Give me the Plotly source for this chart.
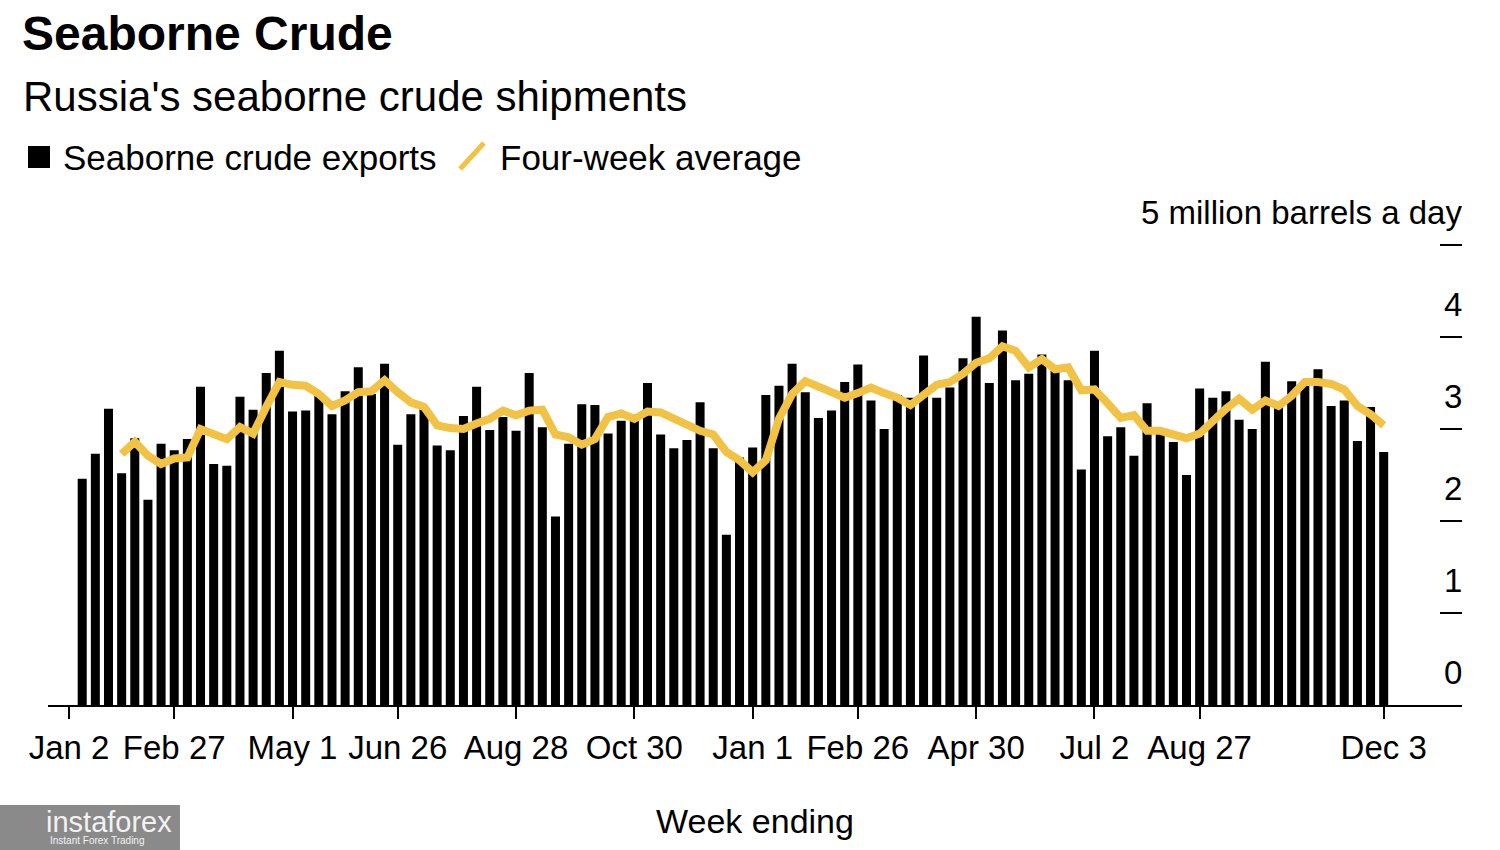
import plotly.graph_objects as go
import pandas as pd

# ---------------- data ----------------
first_week = "2022-01-09"   # week ending date of first bar

exports = [
    2.46, 2.73, 3.22, 2.52, 2.90, 2.23, 2.84, 2.77, 2.89, 3.46,
    2.62, 2.60, 3.35, 3.21, 3.61, 3.85, 3.19, 3.20, 3.36, 3.16,
    3.41, 3.67, 3.38, 3.71, 2.83, 3.16, 3.22, 2.82, 2.77, 3.14,
    3.46, 2.99, 3.13, 2.98, 3.61, 3.02, 2.05, 2.84, 3.27, 3.26,
    2.95, 3.09, 3.09, 3.50, 2.94, 2.79, 2.88, 3.29, 2.79, 1.85,
    2.69, 2.80, 3.37, 3.47, 3.71, 3.40, 3.12, 3.20, 3.51, 3.70,
    3.31, 3.00, 3.37, 3.34, 3.80, 3.34, 3.45, 3.77, 4.22, 3.50,
    4.07, 3.53, 3.60, 3.81, 3.63, 3.53, 2.56, 3.85, 2.92, 3.02,
    2.71, 3.28, 3.00, 2.86, 2.50, 3.44, 3.34, 3.41, 3.10, 3.00,
    3.73, 3.24, 3.52, 3.51, 3.65, 3.25, 3.31, 2.87, 3.24, 2.75,
]

four_week_avg = [
    None, None, None, 2.73, 2.86, 2.71, 2.62, 2.68, 2.69, 3.00,
    2.95, 2.89, 3.02, 2.95, 3.24, 3.51, 3.48, 3.47, 3.38, 3.25,
    3.31, 3.40, 3.41, 3.53, 3.40, 3.29, 3.24, 3.04, 3.01, 3.00,
    3.06, 3.11, 3.20, 3.15, 3.20, 3.21, 2.94, 2.91, 2.83, 2.89,
    3.13, 3.17, 3.11, 3.19, 3.18, 3.11, 3.05, 2.98, 2.94, 2.75,
    2.66, 2.53, 2.66, 3.11, 3.38, 3.52, 3.46, 3.39, 3.34, 3.39,
    3.45, 3.39, 3.34, 3.26, 3.38, 3.48, 3.51, 3.60, 3.72, 3.77,
    3.90, 3.85, 3.67, 3.76, 3.65, 3.67, 3.42, 3.43, 3.28, 3.12,
    3.15, 2.98, 2.98, 2.94, 2.90, 2.95, 3.09, 3.22, 3.33, 3.21,
    3.31, 3.25, 3.36, 3.51, 3.51, 3.49, 3.43, 3.25, 3.16, 3.04,
]

tick_dates = ["2022-01-02", "2022-02-27", "2022-05-01", "2022-06-26",
              "2022-08-28", "2022-10-30", "2023-01-01", "2023-02-26",
              "2023-04-30", "2023-07-02", "2023-08-27", "2023-12-03"]
tick_labels = ["Jan 2", "Feb 27", "May 1", "Jun 26", "Aug 28", "Oct 30",
               "Jan 1", "Feb 26", "Apr 30", "Jul 2", "Aug 27", "Dec 3"]

y_ticks = [0, 1, 2, 3, 4, 5]
y_tick_labels = ["0", "1", "2", "3", "4", "5 million barrels a day"]

# ---------------- layout geometry ----------------
W, H = 1500, 850
L, R, T, B = 48, 38, 243, 145
PW = W - L - R
PH = H - T - B
UNIT_PX = 92.0
Y_MAX = PH / UNIT_PX
FONT = "Liberation Sans, Arial, Helvetica, sans-serif"
YELLOW = "#F2C244"


def px(x):
    return (x - L) / PW


def py(y):
    return (H - B - y) / PH


weeks = pd.date_range(first_week, periods=len(exports), freq="7D")
day_px = 13.146 / 7.0
x_start = weeks[0] - pd.Timedelta(days=(82.2 - L) / day_px)
x_end = weeks[-1] + pd.Timedelta(days=(W - R - 1383.7) / day_px)
x_range = [x_start.strftime("%Y-%m-%d %H:%M:%S"), x_end.strftime("%Y-%m-%d %H:%M:%S")]

fig = go.Figure()
fig.add_trace(go.Bar(
    x=weeks, y=exports, name="Seaborne crude exports",
    marker=dict(color="black", line=dict(width=0)),
    width=4.8 * 86400000,
))
fig.add_trace(go.Scatter(
    x=weeks, y=four_week_avg, name="Four-week average",
    mode="lines", line=dict(color=YELLOW, width=8),
    connectgaps=False,
))

fig.update_layout(
    width=W, height=H,
    margin=dict(l=L, r=R, t=T, b=B, autoexpand=False),
    paper_bgcolor="white", plot_bgcolor="white",
    showlegend=False,
    font=dict(family=FONT, color="black"),
    title=dict(
        text="<b>Seaborne Crude</b>",
        x=22 / W, xanchor="left", xref="container",
        y=1 - 16 / H, yanchor="top", yref="container",
        font=dict(size=48, color="black", family=FONT),
    ),
    xaxis=dict(
        type="date", range=x_range,
        tickmode="array", tickvals=tick_dates, ticktext=tick_labels,
        ticks="outside", ticklen=12, tickwidth=2, tickcolor="black",
        showline=True, linecolor="black", linewidth=2,
        showgrid=False, zeroline=False,
        tickfont=dict(size=33, color="black", family=FONT),
        ticklabeloverflow="allow",
        title=dict(text="Week ending", font=dict(size=34, color="black", family=FONT),
                   standoff=45),
        automargin=False,
    ),
    yaxis=dict(
        side="right", range=[0, Y_MAX],
        tickmode="array", tickvals=y_ticks,
        ticks="inside", ticklen=22, tickwidth=2, tickcolor="black",
        showticklabels=False,
        showline=False, showgrid=False, zeroline=False,
        automargin=False,
    ),
    bargap=0.3,
)

# y tick labels sit above their tick marks, right-aligned to the plot edge
for v, lab in zip(y_ticks, y_tick_labels):
    fig.add_annotation(
        text=lab, x=px(1464), y=v, xref="paper", yref="y",
        xanchor="right", yanchor="middle", yshift=33, showarrow=False,
        font=dict(size=33, color="black", family=FONT),
    )

# subtitle
fig.add_annotation(
    text="Russia's seaborne crude shipments",
    x=px(21), y=py(96), xref="paper", yref="paper",
    xanchor="left", yanchor="middle", showarrow=False,
    font=dict(size=42, color="black", family=FONT),
)

# custom legend
fig.add_shape(type="rect", xref="paper", yref="paper",
              x0=px(28), x1=px(50), y0=py(168), y1=py(146),
              fillcolor="black", line=dict(width=0))
fig.add_annotation(
    text="Seaborne crude exports",
    x=px(61), y=py(157), xref="paper", yref="paper",
    xanchor="left", yanchor="middle", showarrow=False,
    font=dict(size=35, color="black", family=FONT),
)
fig.add_shape(type="line", xref="paper", yref="paper",
              x0=px(460), y0=py(169), x1=px(484), y1=py(143),
              line=dict(color=YELLOW, width=5))
fig.add_annotation(
    text="Four-week average",
    x=px(498), y=py(157), xref="paper", yref="paper",
    xanchor="left", yanchor="middle", showarrow=False,
    font=dict(size=35, color="black", family=FONT),
)

# watermark box
fig.add_shape(type="rect", xref="paper", yref="paper",
              x0=px(0), x1=px(180), y0=py(850), y1=py(805),
              fillcolor="#8a8a8a", line=dict(width=0), layer="above")
fig.add_annotation(
    text="instaforex", x=px(44), y=py(822), xref="paper", yref="paper",
    xanchor="left", yanchor="middle", showarrow=False,
    font=dict(size=29, color="#f2f2f2", family=FONT),
)
fig.add_annotation(
    text="Instant Forex Trading", x=px(48), y=py(840), xref="paper", yref="paper",
    xanchor="left", yanchor="middle", showarrow=False,
    font=dict(size=10, color="#f2f2f2", family=FONT),
)

fig.write_html("out.html", config={"displayModeBar": False},
               post_script="document.body.style.margin='0px';")
